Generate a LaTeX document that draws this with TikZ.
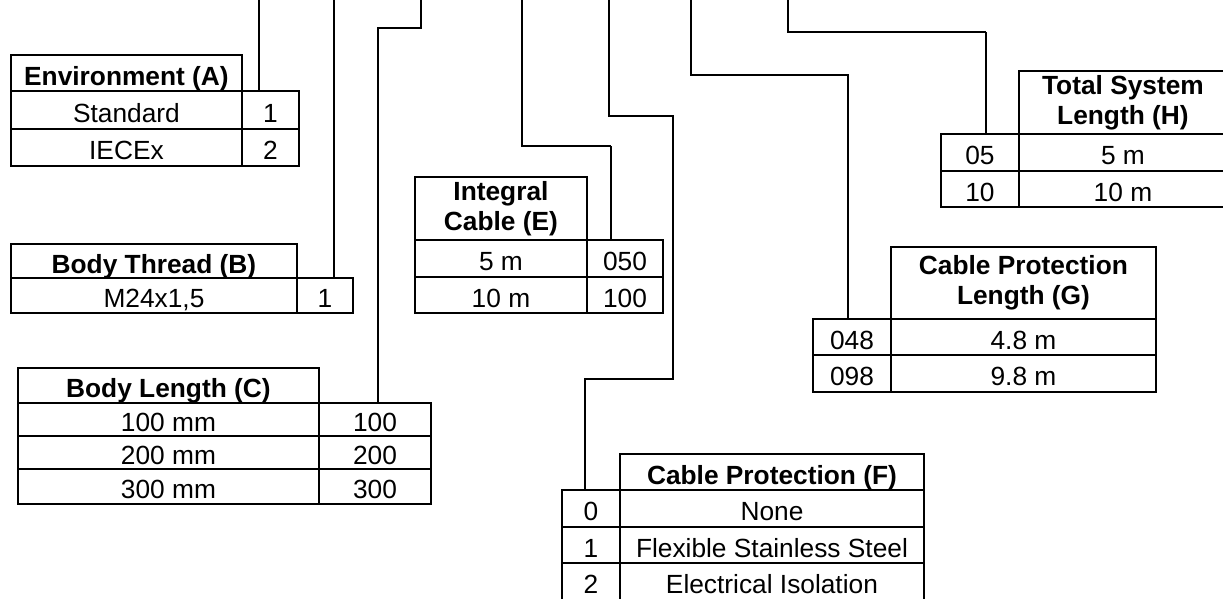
\documentclass[tikz,border=0pt]{standalone}
\usepackage{fontspec}
\setmainfont{Liberation Sans}
\begin{document}
\begin{tikzpicture}[x=1pt,y=-1pt]
\tikzset{
  cell/.style={draw, line width=1.9pt, inner sep=0pt, anchor=north west, align=center,
    font=\fontsize{26.3}{30}\selectfont, text height=24.5pt, text depth=0pt},
  hdr/.style={cell, font=\bfseries\fontsize{26.3}{30}\selectfont},
  hdrtwo/.style={draw, line width=1.9pt, inner sep=0pt, anchor=north west, align=center,
    font=\bfseries\fontsize{26.3}{30}\selectfont},
  wire/.style={line width=1.5pt},
  wirebold/.style={line width=2.2pt}
}
\useasboundingbox[fill=white] (0,0) rectangle (1223,598);

% Table A
\node[hdr, minimum width=231, minimum height=36] (aH) at (10,54) {Environment (A)};
\node[cell, minimum width=231, minimum height=38] (aD1) at (10,90) {Standard};
\node[cell, minimum width=57, minimum height=38] (aV1) at (241,90) {1};
\node[cell, minimum width=231, minimum height=37] (aD2) at (10,128) {IECEx};
\node[cell, minimum width=57, minimum height=37] (aV2) at (241,128) {2};

% Table B
\node[hdr, minimum width=286, minimum height=34] (bH) at (10,243) {Body Thread (B)};
\node[cell, minimum width=286, minimum height=35] (bD1) at (10,277) {M24x1,5};
\node[cell, minimum width=56, minimum height=35] (bV1) at (296,277) {1};

% Table C
\node[hdr, minimum width=301, minimum height=35] (cH) at (17,367) {Body Length (C)};
\node[cell, minimum width=301, minimum height=33] (cD1) at (17,402) {100 mm};
\node[cell, minimum width=112, minimum height=33] (cV1) at (318,402) {100};
\node[cell, minimum width=301, minimum height=33] (cD2) at (17,435) {200 mm};
\node[cell, minimum width=112, minimum height=33] (cV2) at (318,435) {200};
\node[cell, minimum width=301, minimum height=35] (cD3) at (17,468) {300 mm};
\node[cell, minimum width=112, minimum height=35] (cV3) at (318,468) {300};

% Table E
\node[hdrtwo, minimum width=172, minimum height=63] (eH) at (414,176) {Integral\\Cable (E)};
\node[cell, minimum width=172, minimum height=37] (eD1) at (414,239) {5 m};
\node[cell, minimum width=76, minimum height=37] (eV1) at (586,239) {050};
\node[cell, minimum width=172, minimum height=36] (eD2) at (414,276) {10 m};
\node[cell, minimum width=76, minimum height=36] (eV2) at (586,276) {100};

% Table F
\node[hdr, minimum width=304, minimum height=36] (fH) at (619,453) {Cable Protection (F)};
\node[cell, minimum width=58, minimum height=37] (fV1) at (561,489) {0};
\node[cell, minimum width=304, minimum height=37] (fD1) at (619,489) {None};
\node[cell, minimum width=58, minimum height=36] (fV2) at (561,526) {1};
\node[cell, minimum width=304, minimum height=36] (fD2) at (619,526) {Flexible Stainless Steel};
\node[cell, minimum width=58, minimum height=37] (fV3) at (561,562) {2};
\node[cell, minimum width=304, minimum height=37] (fD3) at (619,562) {Electrical Isolation};

% Table G
\node[hdrtwo, minimum width=265, minimum height=72] (gH) at (890,246) {Cable Protection\\Length (G)};
\node[cell, minimum width=78, minimum height=36] (gV1) at (812,318) {048};
\node[cell, minimum width=265, minimum height=36] (gD1) at (890,318) {4.8 m};
\node[cell, minimum width=78, minimum height=37] (gV2) at (812,354) {098};
\node[cell, minimum width=265, minimum height=37] (gD2) at (890,354) {9.8 m};

% Table H
\node[hdrtwo, minimum width=208, minimum height=63] (hH) at (1018,70) {Total System\\Length (H)};
\node[cell, minimum width=78, minimum height=37] (hV1) at (940,133) {05};
\node[cell, minimum width=208, minimum height=37] (hD1) at (1018,133) {5 m};
\node[cell, minimum width=78, minimum height=36] (hV2) at (940,170) {10};
\node[cell, minimum width=208, minimum height=36] (hD2) at (1018,170) {10 m};

% connector start points
\coordinate (sA) at (259,0);
\coordinate (sB) at (334,0);
\coordinate (sC) at (421,0);
\coordinate (sE) at (522,0);
\coordinate (sF) at (609,0);
\coordinate (sG) at (691,0);
\coordinate (sH) at (788,0);

\draw[wire] (sA) -- (sA |- aV1.north);
\draw[wire] (sB) -- (sB |- bV1.north);
\draw[wire] (sC) -- (421,28) -- (378,28) -- (378,0 |- cV1.north);
\draw[wire] (sE) -- (522,146) -- (611,146);
\draw[wirebold] (611,146) -- (611,0 |- eV1.north);
\draw[wire] (sF) -- (609,116) -- (673,116) -- (673,379) -- (585,379) -- (585,0 |- fV1.north);
\draw[wire] (sG) -- (691,75) -- (848,75) -- (848,0 |- gV1.north);
\draw[wire] (sH) -- (788,32) -- (986,32);
\draw[wirebold] (986,32) -- (986,0 |- hV1.north);
\end{tikzpicture}
\end{document}
